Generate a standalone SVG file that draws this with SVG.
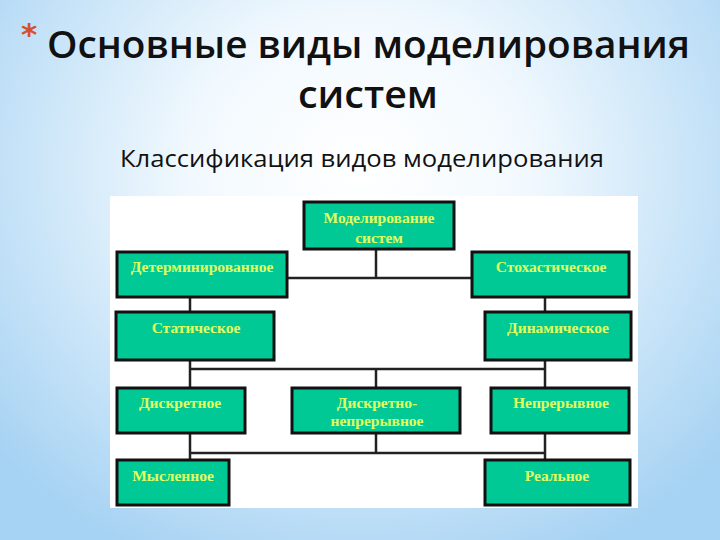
<svg xmlns="http://www.w3.org/2000/svg" width="720" height="540" viewBox="0 0 720 540">
<defs>
<radialGradient id="bg" cx="360" cy="170" r="480" gradientUnits="userSpaceOnUse" gradientTransform="translate(0,170) scale(1,0.9) translate(0,-170)">
<stop offset="0" stop-color="#ffffff"/>
<stop offset="0.35" stop-color="#f2f9fe"/>
<stop offset="0.7" stop-color="#c8e4f8"/>
<stop offset="1" stop-color="#a6d2f3"/>
</radialGradient>
<style>
.box{fill:#00c995;stroke:#111;stroke-width:3}
.lbl{font-family:"Liberation Serif","Times New Roman",serif;font-weight:bold;font-size:15.5px;fill:#e4ff5c;text-anchor:middle}
.ln{stroke:#222;stroke-width:2.5;fill:none}
.ttl{font-family:"Open Sans","DejaVu Sans",sans-serif;font-weight:600;fill:#111}
</style>
</defs>
<rect width="720" height="540" fill="url(#bg)"/>
<text x="21" y="45" font-family="'DejaVu Sans',sans-serif" font-size="31" font-weight="bold" fill="#d4512c">*</text>
<text class="ttl" x="47" y="58" font-size="38" textLength="643" lengthAdjust="spacingAndGlyphs">Основные виды моделирования</text>
<text class="ttl" x="368" y="108" font-size="38" text-anchor="middle" textLength="140" lengthAdjust="spacingAndGlyphs">систем</text>
<text x="362" y="167" font-family="'Open Sans','DejaVu Sans',sans-serif" font-size="24" fill="#111" text-anchor="middle" textLength="484" lengthAdjust="spacingAndGlyphs">Классификация видов моделирования</text>
<rect x="110" y="196" width="528" height="312" fill="#ffffff"/>
<g id="connectors">
<path class="ln" d="M376 250V278M286 278H472"/>
<path class="ln" d="M190 298V312M545 298V312"/>
<path class="ln" d="M190 361V388M545 361V388M190 369H545M376 369V388"/>
<path class="ln" d="M190 433V460M545 433V460M190 453H545M376 433V453"/>
</g>
<g id="n-model"><rect class="box" x="304" y="202" width="150" height="47"/><text class="lbl" x="379" y="223">Моделирование</text><text class="lbl" x="379" y="243">систем</text></g>
<g id="n-determ"><rect class="box" x="117" y="252" width="170" height="45"/><text class="lbl" x="202" y="272">Детерминированное</text></g>
<g id="n-stoch"><rect class="box" x="472" y="252" width="157" height="45"/><text class="lbl" x="551" y="272">Стохастическое</text></g>
<g id="n-static"><rect class="box" x="116" y="312" width="158" height="48"/><text class="lbl" x="196" y="333">Статическое</text></g>
<g id="n-dynamic"><rect class="box" x="485" y="312" width="146" height="48"/><text class="lbl" x="558" y="333">Динамическое</text></g>
<g id="n-discrete"><rect class="box" x="117" y="388" width="128" height="45"/><text class="lbl" x="180" y="408">Дискретное</text></g>
<g id="n-discont"><rect class="box" x="292" y="388" width="168" height="45"/><text class="lbl" x="377" y="408">Дискретно-</text><text class="lbl" x="377" y="426">непрерывное</text></g>
<g id="n-cont"><rect class="box" x="491" y="388" width="138" height="45"/><text class="lbl" x="561" y="408">Непрерывное</text></g>
<g id="n-mental"><rect class="box" x="117" y="460" width="112" height="45"/><text class="lbl" x="173" y="481">Мысленное</text></g>
<g id="n-real"><rect class="box" x="485" y="460" width="145" height="45"/><text class="lbl" x="557" y="481">Реальное</text></g>
</svg>
